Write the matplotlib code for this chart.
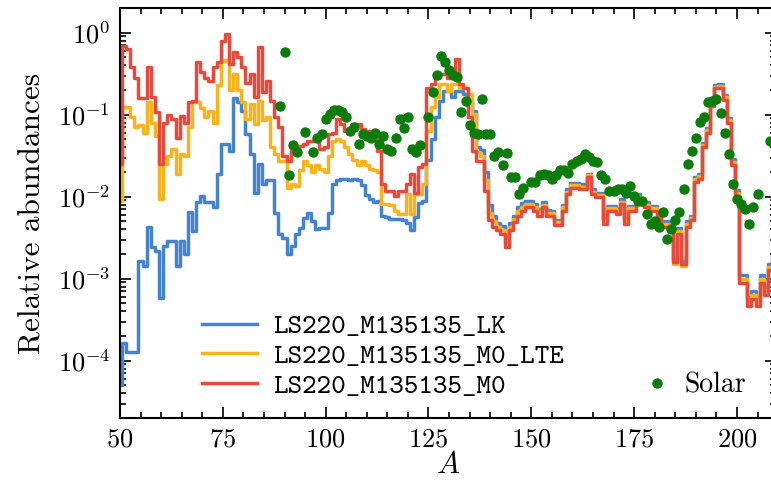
import numpy as np
import matplotlib
matplotlib.use("Agg")
import matplotlib.pyplot as plt
from matplotlib.ticker import MultipleLocator, LogLocator, NullFormatter

plt.rcParams['font.family'] = 'serif'
plt.rcParams['font.serif'] = ['cmr10', 'DejaVu Serif']
plt.rcParams['mathtext.fontset'] = 'cm'
plt.rcParams['axes.formatter.use_mathtext'] = True

# mass numbers of the model yields
mass_number = np.arange(50, 210)

# log10 of relative abundances, one value per A = 50..209
log_lk = [
    -4.30, -3.78, -3.90, -3.90, -3.90, -2.78, -2.84, -2.37, -2.62, -2.66,
    -3.23, -2.60, -2.54, -2.54, -2.84, -2.54, -2.70, -2.19, -2.42, -2.07,
    -1.99, -2.07, -2.07, -2.13, -1.72, -1.36, -1.36, -1.44, -0.80, -0.85,
    -0.95, -1.24, -1.48, -1.95, -1.60, -1.85, -1.80, -1.80, -2.20, -2.45,
    -2.50, -2.70, -2.60, -2.45, -2.38, -2.26, -2.20, -2.30, -2.40, -2.38,
    -2.38, -2.20, -1.85, -1.80, -1.78, -1.78, -1.80, -1.78, -1.80, -1.86,
    -1.98, -2.03, -2.07, -2.05, -2.23, -2.25, -2.27, -2.27, -2.27, -2.29,
    -2.32, -2.41, -2.25, -2.08, -2.05, -1.55, -1.30, -1.03, -0.83, -0.71,
    -0.71, -0.79, -0.71, -0.71, -0.75, -0.85, -0.95, -1.40, -1.43, -1.70,
    -2.10, -2.24, -2.32, -2.36, -2.48, -2.32, -2.23, -2.13, -2.08, -2.05,
    -2.05, -2.09, -2.15, -2.07, -2.16, -2.17, -2.28, -2.28, -2.10, -1.91,
    -1.83, -1.83, -1.85, -1.85, -1.72, -1.91, -1.95, -1.95, -2.26, -2.11,
    -2.11, -2.15, -2.03, -2.26, -2.11, -2.11, -1.97, -2.03, -2.07, -2.11,
    -2.11, -2.19, -2.30, -2.30, -2.33, -2.76, -2.38, -2.78, -2.30, -2.23,
    -1.76, -1.72, -1.34, -1.16, -0.86, -0.64, -0.63, -0.76, -1.04, -1.54,
    -1.92, -2.95, -2.95, -3.22, -3.15, -3.22, -2.95, -3.10, -2.82, -2.72,
]

log_m0_lte = [
    -2.05, -0.91, -0.91, -1.03, -1.15, -1.13, -1.22, -0.85, -1.10, -1.26,
    -2.03, -1.60, -1.50, -1.42, -1.72, -1.48, -1.50, -1.15, -0.85, -0.85,
    -0.92, -1.03, -0.95, -1.10, -0.64, -0.35, -0.33, -0.70, -0.50, -0.70,
    -0.85, -1.05, -0.87, -1.11, -0.83, -1.07, -1.03, -1.40, -1.48, -1.56,
    -1.56, -1.89, -1.85, -1.87, -1.68, -1.56, -1.62, -1.70, -1.62, -1.66,
    -1.70, -1.50, -1.32, -1.30, -1.32, -1.40, -1.48, -1.55, -1.62, -1.56,
    -1.62, -1.66, -1.68, -1.70, -2.09, -2.09, -2.10, -2.17, -2.21, -2.21,
    -1.97, -2.21, -1.97, -1.97, -1.85, -1.20, -0.91, -0.79, -0.63, -0.63,
    -0.71, -0.63, -0.63, -0.67, -0.67, -0.75, -0.99, -1.45, -1.50, -1.80,
    -2.20, -2.30, -2.37, -2.41, -2.55, -2.37, -2.27, -2.18, -2.13, -2.09,
    -2.09, -2.13, -2.19, -2.10, -2.20, -2.20, -2.31, -2.31, -2.13, -1.94,
    -1.86, -1.86, -1.88, -1.88, -1.74, -1.94, -1.98, -1.98, -2.29, -2.14,
    -2.14, -2.18, -2.06, -2.29, -2.14, -2.14, -2.00, -2.06, -2.10, -2.14,
    -2.14, -2.22, -2.33, -2.33, -2.36, -2.82, -2.42, -2.84, -2.33, -2.26,
    -1.79, -1.75, -1.37, -1.19, -0.88, -0.66, -0.65, -0.79, -1.07, -1.58,
    -1.96, -3.00, -3.00, -3.28, -3.20, -3.28, -3.00, -3.15, -2.86, -2.76,
]

log_m0 = [
    -1.60, -0.16, -0.20, -0.42, -0.55, -0.80, -0.80, -0.42, -0.79, -0.97,
    -1.60, -1.10, -1.00, -1.05, -1.28, -1.02, -1.10, -0.85, -0.83, -0.36,
    -0.48, -0.55, -0.59, -0.42, -0.36, -0.10, -0.02, -0.38, -0.24, -0.30,
    -0.42, -0.62, -0.50, -0.79, -0.18, -0.73, -0.59, -0.83, -1.03, -1.15,
    -1.50, -1.56, -1.44, -1.42, -1.38, -1.36, -1.32, -1.32, -1.28, -1.42,
    -1.40, -1.24, -1.22, -1.05, -1.11, -1.20, -1.20, -1.11, -1.12, -1.17,
    -1.20, -1.21, -1.26, -1.44, -1.85, -1.93, -1.93, -1.99, -1.93, -1.93,
    -1.85, -1.72, -1.95, -1.64, -1.60, -0.67, -0.63, -0.55, -0.50, -0.50,
    -0.55, -0.50, -0.32, -0.63, -0.67, -1.03, -1.44, -1.56, -1.56, -1.93,
    -2.29, -2.37, -2.41, -2.45, -2.62, -2.41, -2.31, -2.23, -2.17, -2.13,
    -2.13, -2.17, -2.23, -2.13, -2.23, -2.23, -2.35, -2.35, -2.17, -1.97,
    -1.89, -1.89, -1.91, -1.91, -1.76, -1.97, -2.01, -2.01, -2.33, -2.17,
    -2.17, -2.21, -2.09, -2.33, -2.17, -2.17, -2.03, -2.09, -2.13, -2.17,
    -2.17, -2.25, -2.37, -2.37, -2.40, -2.80, -2.45, -2.82, -2.37, -2.29,
    -1.82, -1.78, -1.40, -1.22, -0.90, -0.68, -0.67, -0.82, -1.10, -1.62,
    -2.00, -3.05, -3.05, -3.33, -3.25, -3.33, -3.05, -3.20, -2.90, -2.80,
]

# solar r-process pattern
solar_a = [
    89, 90, 91, 92, 93, 95, 97, 98, 99, 100, 101, 102, 103, 104, 105, 106,
    107, 108, 109, 110, 111, 112, 113, 114, 115, 116, 117, 118, 119, 120,
    121, 122, 123, 125, 126, 127, 128, 129, 130, 131, 132, 133, 134, 135,
    136, 137, 138, 139, 140, 141, 142, 143, 144, 145, 146, 147, 148, 150,
    151, 152, 153, 154, 155, 156, 157, 158, 159, 160, 161, 162, 163, 164,
    165, 166, 167, 168, 169, 170, 171, 172, 173, 174, 175, 176, 177, 178,
    179, 180, 181, 182, 183, 184, 185, 186, 187, 188, 189, 190, 191, 192,
    193, 194, 195, 196, 197, 198, 199, 200, 201, 202, 203, 204, 205, 208,
]
solar_log = [
    -0.90, -0.24, -1.73, -1.37, -1.46, -1.21, -1.46, -1.28, -1.24, -1.05,
    -0.99, -0.94, -0.94, -0.97, -1.03, -1.20, -1.15, -1.36, -1.24, -1.26,
    -1.28, -1.22, -1.36, -1.26, -1.42, -1.44, -1.28, -1.05, -1.16, -1.03,
    -1.42, -1.46, -1.37, -1.03, -0.73, -0.52, -0.28, -0.36, -0.45, -0.52,
    -0.54, -0.97, -0.83, -1.13, -1.22, -1.24, -0.81, -1.24, -1.24, -1.50,
    -1.46, -1.62, -1.47, -1.76, -1.76, -1.97, -1.89, -1.82, -1.82, -1.74,
    -1.72, -1.74, -1.78, -1.74, -1.68, -1.68, -1.71, -1.60, -1.56, -1.54,
    -1.48, -1.52, -1.56, -1.58, -1.74, -1.78, -1.93, -1.93, -1.91, -1.91,
    -1.95, -1.87, -1.99, -2.05, -2.05, -2.21, -2.33, -2.30, -2.37, -2.19,
    -2.52, -2.39, -2.29, -2.19, -1.91, -1.60, -1.44, -1.28, -1.09, -1.03,
    -0.85, -0.83, -0.81, -0.98, -1.22, -1.48, -1.85, -2.03, -2.09, -2.15,
    -2.33, -2.13, -1.97, -1.32,
]

fig = plt.figure(figsize=(7.71, 4.87), dpi=100)
ax = fig.add_axes([0.1556, 0.1417, 0.851, 0.842])

l1, = ax.step(mass_number, 10 ** np.array(log_lk), where='mid',
              color='#4383d0', lw=2.5, label='LS220_M135135_LK')
l2, = ax.step(mass_number, 10 ** np.array(log_m0_lte), where='mid',
              color='#f8b21c', lw=2.5, label='LS220_M135135_M0_LTE')
l3, = ax.step(mass_number, 10 ** np.array(log_m0), where='mid',
              color='#e9493b', lw=2.5, label='LS220_M135135_M0')
s1, = ax.plot(solar_a, 10 ** np.array(solar_log), 'o', color='#0c7d0c',
              ms=7.5, mew=0, label='Solar', zorder=5)

ax.set_yscale('log')
ax.set_xlim(50, 209.5)
ax.set_ylim(2e-5, 2)
ax.xaxis.set_major_locator(MultipleLocator(25))
ax.xaxis.set_minor_locator(MultipleLocator(5))
ax.yaxis.set_major_locator(LogLocator(base=10, numticks=20))
ax.yaxis.set_minor_locator(LogLocator(base=10, subs=np.arange(2, 10), numticks=20))
ax.yaxis.set_minor_formatter(NullFormatter())

ax.tick_params(which='both', direction='in', top=True, right=True, width=1.2)
ax.tick_params(which='major', length=8, labelsize=19, pad=7)
ax.tick_params(which='minor', length=4)
for sp in ax.spines.values():
    sp.set_linewidth(1.5)

ax.set_xlabel('$A$', fontsize=22, labelpad=0)
ax.set_ylabel('Relative abundances', fontsize=22.5, labelpad=8)

mono = {'family': ['cmtt10', 'DejaVu Sans Mono'], 'size': 20}
leg1 = ax.legend(handles=[l1, l2, l3], loc='lower left', frameon=False,
                 bbox_to_anchor=(0.108, 0.02), prop=mono, handlelength=2.0,
                 handletextpad=0.58, labelspacing=0.15, borderaxespad=0)
ax.add_artist(leg1)
ax.legend(handles=[s1], loc='lower left', frameon=False,
          bbox_to_anchor=(0.78, 0.02), prop={'size': 20},
          handlelength=1.0, handletextpad=0.5, borderaxespad=0)

fig.savefig('out.png', dpi=100)
